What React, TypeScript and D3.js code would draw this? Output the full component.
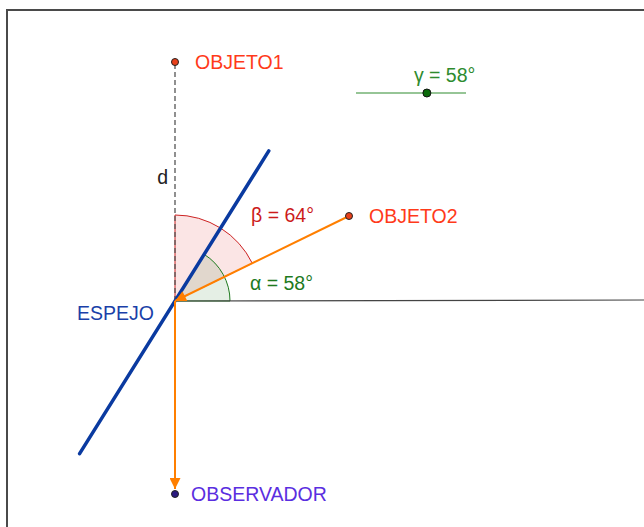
import { useEffect, useRef } from 'react';
import * as d3 from 'd3';

// geometry in world units (GeoGebra-like), origin at the mirror point
const pointNames = ['O', 'OBJETO1', 'OBJETO2', 'OBSERVADOR'];
const pointX = [0, 0, 3.48, 0];
const pointY = [0, 4.78, 1.7, -3.86];

const mirrorAngle = 58; // gamma, degrees
const mirrorExtent = [-3.6, 3.54];

const sliderRange = [0, 90];
const sliderValue = 58;
const sliderStart = [3.62, 4.16];
const sliderLength = 2.2;

const angleRadius = { alpha: 1.1, beta: 1.72 };

const W = 644;
const H = 527;

export default function App() {
  const svgRef = useRef<SVGSVGElement>(null);

  useEffect(() => {
    if (!svgRef.current) return;
    const svg = d3.select(svgRef.current);
    svg.selectAll('*').remove();

    const x = d3.scaleLinear().domain([-3.5, 9.38]).range([0, W]);
    const y = d3.scaleLinear().domain([6.02, -4.52]).range([0, H]);
    const unit = x(1) - x(0);

    const P: Record<string, [number, number]> = {};
    pointNames.forEach((n, i) => (P[n] = [x(pointX[i]), y(pointY[i])]));
    const [ox, oy] = P.O;

    const font = '"Liberation Sans", Arial, sans-serif';

    // frame
    svg.append('rect')
      .attr('x', 7).attr('y', 10)
      .attr('width', W + 20).attr('height', H + 20)
      .attr('fill', '#fff')
      .attr('stroke', '#4a4a4a')
      .attr('stroke-width', 2);

    const defs = svg.append('defs');
    defs.append('marker')
      .attr('id', 'arrow')
      .attr('viewBox', '0 0 10 10')
      .attr('refX', 10).attr('refY', 5)
      .attr('markerWidth', 13).attr('markerHeight', 11)
      .attr('markerUnits', 'userSpaceOnUse')
      .attr('orient', 'auto')
      .append('path')
      .attr('d', 'M0,0 L10,5 L0,10 Z')
      .attr('fill', '#ff7f00');

    const g = svg.append('g');

    // angle sectors
    const dirObj2 = Math.atan2(pointY[2] - pointY[0], pointX[2] - pointX[0]);
    const sector = (a0: number, a1: number, r: number) => {
      const arc = d3.arc()
        .innerRadius(0)
        .outerRadius(r)
        .startAngle(Math.PI / 2 - a1)
        .endAngle(Math.PI / 2 - a0);
      return arc({} as any) as string;
    };

    g.append('path')
      .attr('transform', `translate(${ox},${oy})`)
      .attr('d', sector(dirObj2, Math.PI / 2, angleRadius.beta * unit))
      .attr('fill', 'rgba(220,0,0,0.1)')
      .attr('stroke', '#cc2222')
      .attr('stroke-width', 1);

    g.append('path')
      .attr('transform', `translate(${ox},${oy})`)
      .attr('d', sector(0, (mirrorAngle * Math.PI) / 180, angleRadius.alpha * unit))
      .attr('fill', 'rgba(0,100,0,0.1)')
      .attr('stroke', '#1e7a1e')
      .attr('stroke-width', 1);

    // horizontal line
    g.append('line')
      .attr('x1', ox).attr('y1', oy)
      .attr('x2', W).attr('y2', oy - 1)
      .attr('stroke', '#444')
      .attr('stroke-width', 1.2);

    // dashed d segment
    g.append('line')
      .attr('x1', ox).attr('y1', oy)
      .attr('x2', P.OBJETO1[0]).attr('y2', P.OBJETO1[1])
      .attr('stroke', '#555')
      .attr('stroke-width', 1.3)
      .attr('stroke-dasharray', '5,3');

    // mirror
    const rad = (mirrorAngle * Math.PI) / 180;
    g.append('line')
      .attr('x1', x(mirrorExtent[0] * Math.cos(rad)))
      .attr('y1', y(mirrorExtent[0] * Math.sin(rad)))
      .attr('x2', x(mirrorExtent[1] * Math.cos(rad)))
      .attr('y2', y(mirrorExtent[1] * Math.sin(rad)))
      .attr('stroke', '#0a3aa0')
      .attr('stroke-width', 3.5)
      .attr('stroke-linecap', 'round');

    // rays
    g.append('line')
      .attr('x1', P.OBJETO2[0]).attr('y1', P.OBJETO2[1])
      .attr('x2', ox).attr('y2', oy)
      .attr('stroke', '#ff7f00')
      .attr('stroke-width', 2)
      .attr('marker-end', 'url(#arrow)');

    g.append('line')
      .attr('x1', ox).attr('y1', oy)
      .attr('x2', P.OBSERVADOR[0]).attr('y2', P.OBSERVADOR[1] - 5)
      .attr('stroke', '#ff7f00')
      .attr('stroke-width', 2)
      .attr('marker-end', 'url(#arrow)');

    // slider
    const sx0 = x(sliderStart[0]);
    const sx1 = x(sliderStart[0] + sliderLength);
    const sy = y(sliderStart[1]);
    const sScale = d3.scaleLinear().domain(sliderRange).range([sx0, sx1]);
    g.append('line')
      .attr('x1', sx0).attr('y1', sy).attr('x2', sx1).attr('y2', sy)
      .attr('stroke', '#2e8b2e')
      .attr('stroke-width', 1.2);
    g.append('circle')
      .attr('cx', sScale(sliderValue)).attr('cy', sy).attr('r', 4)
      .attr('fill', '#0a6a0a')
      .attr('stroke', '#111')
      .attr('stroke-width', 1);

    // points
    const dot = (p: [number, number], fill: string) =>
      g.append('circle')
        .attr('cx', p[0]).attr('cy', p[1]).attr('r', 3.5)
        .attr('fill', fill)
        .attr('stroke', '#222')
        .attr('stroke-width', 1);
    dot(P.OBJETO1, '#e8401a');
    dot(P.OBJETO2, '#e8401a');
    dot(P.OBSERVADOR, '#2a1a80');

    // labels
    const label = (tx: number, ty: number, text: string, color: string, anchor = 'start') =>
      g.append('text')
        .attr('x', tx).attr('y', ty)
        .attr('fill', color)
        .attr('font-family', font)
        .attr('font-size', 19.5)
        .attr('text-anchor', anchor)
        .text(text);

    label(P.OBJETO1[0] + 20, P.OBJETO1[1] + 7, 'OBJETO1', '#ff3a1a');
    label(P.OBJETO2[0] + 20, P.OBJETO2[1] + 7, 'OBJETO2', '#ff3a1a');
    label(P.OBSERVADOR[0] + 16, P.OBSERVADOR[1] + 7, 'OBSERVADOR', '#5a2ee0');
    label(ox - 21, oy + 19, 'ESPEJO', '#1a3fa8', 'end');
    label(ox - 7, y(2.48) + 7, 'd', '#222', 'end');
    label(ox + 76, y(1.72) + 7, `β = ${Math.round(90 - (dirObj2 * 180) / Math.PI)}°`, '#cc1a1a');
    label(ox + 75, oy - 11, `α = ${mirrorAngle}°`, '#1e7a1e');
    label(sScale(sliderValue) - 13, sy - 11, `γ = ${sliderValue}°`, '#2e8b2e');
  }, []);

  return <svg ref={svgRef} width={W} height={H} style={{ display: 'block', position: 'absolute', left: 0, top: 0 }} />;
}
